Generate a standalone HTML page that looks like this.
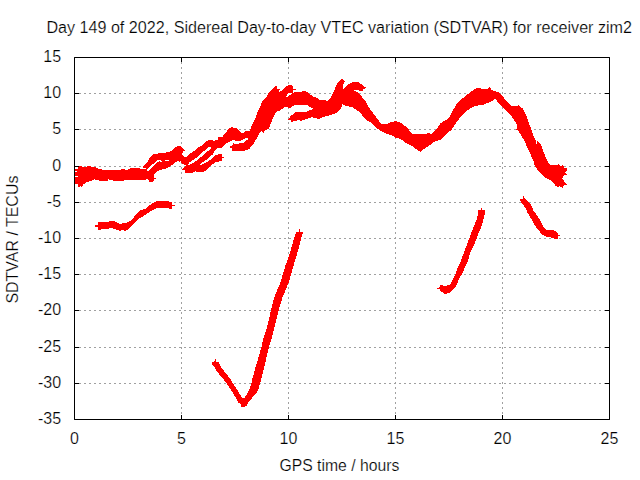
<!DOCTYPE html>
<html><head><meta charset="utf-8"><style>
html,body{margin:0;padding:0;background:#fff;}
svg{display:block;}
text{font-family:"Liberation Sans",sans-serif;font-size:16px;fill:#000;stroke:#fff;stroke-width:0.22px;}
.tl text{font-size:16px;}
</style></head><body>
<svg width="640" height="480" viewBox="0 0 640 480">
<rect width="640" height="480" fill="#fff"/>
<g stroke="#a0a0a0" stroke-width="1" stroke-dasharray="2 3" fill="none">
<line x1="181.5" y1="57" x2="181.5" y2="420"/><line x1="288.5" y1="57" x2="288.5" y2="420"/><line x1="395.5" y1="57" x2="395.5" y2="420"/><line x1="502.5" y1="57" x2="502.5" y2="420"/><line x1="74" y1="383.5" x2="610" y2="383.5"/><line x1="74" y1="347.5" x2="610" y2="347.5"/><line x1="74" y1="310.5" x2="610" y2="310.5"/><line x1="74" y1="274.5" x2="610" y2="274.5"/><line x1="74" y1="238.5" x2="610" y2="238.5"/><line x1="74" y1="202.5" x2="610" y2="202.5"/><line x1="74" y1="166.5" x2="610" y2="166.5"/><line x1="74" y1="129.5" x2="610" y2="129.5"/><line x1="74" y1="93.5" x2="610" y2="93.5"/>
</g>
<g fill="#ff0000" stroke="none" shape-rendering="crispEdges">
<polygon points="74.50,169.30 78.20,169.30 78.20,166.20 81.70,166.20 82.40,166.90 87.00,166.90 87.40,166.00 90.60,166.00 91.30,166.90 93.40,167.20 94.50,166.90 95.90,167.20 98.00,168.60 101.90,169.00 102.60,170.00 111.50,170.00 120.00,170.00 123.40,168.50 126.50,170.00 131.50,167.50 136.50,167.75 140.00,168.20 141.00,168.90 145.50,168.90 145.50,167.80 142.80,167.70 142.80,166.50 145.80,164.20 148.30,160.40 150.40,157.10 152.90,154.60 153.75,154.00 155.00,154.20 159.20,153.20 163.30,153.20 168.30,152.10 170.80,151.25 173.30,148.75 176.70,146.70 179.20,145.80 180.80,146.25 182.90,148.75 184.60,150.00 185.80,150.40 182.90,151.25 182.10,154.20 182.90,156.25 185.00,157.10 186.70,156.70 190.00,153.75 193.30,151.70 198.30,147.10 200.80,146.25 205.80,142.10 208.30,140.00 212.50,140.20 215.00,141.70 215.40,140.40 217.90,140.00 218.30,137.10 222.50,137.10 223.30,135.00 225.80,132.50 228.30,129.20 231.70,127.10 233.30,127.90 236.70,127.90 240.00,131.25 241.70,132.90 243.75,132.50 245.00,131.25 250.00,130.80 250.80,127.50 253.30,122.50 255.80,117.50 257.50,112.50 262.50,101.25 266.25,97.50 268.75,92.50 272.80,88.40 275.20,86.10 276.80,86.10 277.00,88.90 279.80,89.10 279.80,90.30 278.90,90.50 279.10,91.70 281.25,91.00 284.10,88.20 285.20,87.00 287.30,86.10 288.50,84.90 290.60,84.90 293.00,86.10 293.40,88.90 295.80,89.10 295.80,90.10 293.40,90.10 293.40,92.70 294.10,92.00 300.00,91.70 305.00,91.25 308.75,93.10 312.50,96.25 316.25,97.50 320.00,100.00 327.50,100.60 331.25,96.90 333.75,91.90 336.25,85.00 338.75,81.25 341.90,78.50 343.10,79.40 345.00,81.25 343.10,85.00 342.50,89.40 346.25,86.25 350.00,83.10 353.75,81.90 358.75,82.50 362.50,85.00 366.25,88.10 363.10,89.40 362.50,91.25 360.00,90.60 356.25,90.00 353.75,89.40 355.00,91.25 358.75,93.10 362.50,97.50 366.25,102.50 368.75,107.50 372.50,112.50 376.25,117.50 381.25,123.75 386.25,124.40 390.00,122.50 395.00,121.25 399.40,121.90 403.75,125.00 407.50,128.10 411.90,133.75 416.25,134.40 425.00,134.40 427.50,133.10 431.25,133.75 437.50,127.50 440.00,123.75 443.75,121.25 448.75,118.10 452.50,111.25 456.25,104.40 461.25,99.40 467.50,94.40 472.50,90.60 477.50,87.50 480.00,87.50 481.25,89.00 487.50,89.00 489.40,87.25 491.90,90.00 495.00,91.25 498.75,91.90 502.50,96.25 507.50,101.90 511.25,106.25 517.50,106.25 518.75,104.40 520.00,106.90 523.10,108.75 526.25,115.00 528.10,121.25 530.60,127.50 533.10,135.00 535.60,140.00 535.70,144.00 536.80,144.00 537.20,141.00 538.30,141.50 541.25,145.00 542.90,150.40 545.50,156.70 548.10,162.40 551.25,165.50 556.50,165.00 559.00,164.20 560.10,166.60 562.20,165.20 563.75,166.00 564.30,168.10 566.90,168.30 566.90,171.25 564.80,172.30 566.90,174.40 564.30,175.40 561.70,178.50 563.75,180.60 566.90,184.80 563.75,185.30 563.20,187.90 561.10,187.40 559.60,185.80 558.50,186.90 555.90,186.35 554.40,183.75 551.25,180.60 548.10,179.10 545.00,177.50 540.80,173.30 537.70,170.20 534.60,165.00 533.50,160.80 531.50,156.70 529.40,151.50 526.25,145.20 524.20,140.00 522.50,137.50 518.75,131.25 516.25,129.40 517.50,126.90 516.25,123.10 512.50,117.50 507.50,111.90 502.50,106.90 497.50,101.90 495.60,98.75 492.50,100.60 488.75,102.50 482.50,105.00 477.50,105.60 472.50,106.90 466.25,111.25 460.00,117.50 456.25,122.50 451.25,130.00 445.00,135.30 440.00,140.00 435.00,141.25 430.00,145.00 425.00,148.10 420.60,151.90 417.50,150.00 412.50,146.25 406.25,143.10 400.00,138.75 395.00,137.50 391.25,135.00 386.25,133.75 380.00,130.60 377.50,128.75 372.50,123.75 367.50,120.60 363.75,117.50 360.00,112.50 356.25,110.00 352.50,107.25 347.50,106.25 342.50,104.40 340.60,108.75 337.50,111.90 335.60,113.30 330.90,115.10 326.20,116.10 322.50,117.50 318.70,118.90 314.00,118.00 312.20,117.00 307.50,118.90 303.70,119.80 300.90,120.80 299.00,120.30 294.40,120.80 291.60,122.20 291.10,119.80 288.30,119.80 288.30,118.90 289.70,117.50 291.60,115.10 294.40,113.30 296.25,111.90 299.00,112.30 306.60,111.90 309.40,110.50 313.10,109.00 313.10,108.60 310.30,107.20 307.50,105.30 297.20,104.80 292.50,105.80 290.60,107.70 285.00,107.20 283.75,107.50 280.00,110.60 276.25,111.90 274.40,115.00 271.25,122.50 268.75,128.75 266.25,130.00 265.00,130.00 263.30,133.30 262.10,131.25 260.80,131.70 259.20,133.30 257.50,136.70 255.80,140.00 253.30,144.20 250.80,146.70 249.20,149.20 245.00,150.00 244.60,151.00 239.20,151.00 234.20,150.80 232.50,150.80 232.10,147.90 229.60,147.50 229.60,146.50 232.10,145.40 233.30,143.30 235.80,143.75 240.80,143.30 244.20,142.50 246.70,140.00 249.20,138.75 246.25,137.90 244.20,138.75 242.50,140.40 237.50,140.80 234.20,140.40 232.50,140.00 230.00,141.25 227.50,142.50 225.00,144.40 221.70,147.50 217.50,148.30 215.00,150.80 212.90,153.30 214.20,155.40 220.00,154.20 221.70,154.20 222.10,156.70 224.60,157.10 222.10,158.30 221.70,161.25 216.70,161.70 214.20,163.30 212.50,164.50 207.50,168.75 205.00,171.25 200.00,172.10 196.70,172.50 195.80,170.80 192.50,172.70 185.10,172.75 184.80,170.00 182.10,169.50 182.10,168.70 184.30,167.90 184.80,166.25 186.70,165.70 184.80,164.90 182.10,163.50 180.50,161.10 179.40,161.60 177.80,161.10 176.20,161.90 174.00,163.80 171.70,165.00 169.20,167.10 165.00,168.75 160.80,170.00 157.50,171.25 154.20,173.75 153.75,177.90 156.80,178.75 153.75,179.20 153.30,181.70 149.20,181.70 147.90,179.20 145.00,179.60 140.00,180.40 132.75,180.25 126.50,179.75 121.50,181.00 116.50,181.25 109.00,179.40 108.30,178.90 107.60,181.00 103.70,181.00 103.30,180.70 99.80,180.70 98.40,180.00 95.50,180.00 94.80,179.30 93.40,180.00 90.90,180.70 88.80,181.80 86.30,182.10 84.90,183.90 83.10,184.20 82.40,186.70 81.30,187.10 79.90,186.00 79.20,187.10 78.20,187.10 78.20,183.90 74.50,183.90"/>
<polygon points="94.90,225.00 98.40,225.00 98.40,222.40 108.30,222.00 109.70,221.00 114.60,221.40 119.50,223.80 126.60,222.80 132.20,219.60 136.40,214.00 139.90,210.50 144.90,209.10 151.20,204.10 156.10,201.30 167.40,201.30 171.60,202.00 171.90,204.80 175.10,205.10 175.10,206.00 171.90,206.00 171.60,208.80 167.40,208.40 157.50,208.00 151.90,210.50 146.30,214.00 142.00,216.90 139.00,218.75 136.00,221.75 133.00,224.75 130.75,227.00 128.50,228.50 127.00,230.00 125.90,230.00 125.50,230.75 124.00,230.75 123.60,230.00 121.40,230.00 121.00,230.75 119.10,230.75 118.75,230.00 116.50,230.00 116.10,229.25 113.50,228.90 112.75,227.75 109.40,227.75 109.00,228.50 101.10,228.50 100.75,229.60 98.40,229.60 98.40,226.60 94.90,226.60"/>
<polygon points="212.00,362.50 212.00,364.20 214.90,367.60 216.60,371.00 218.90,373.90 221.80,377.40 224.60,380.80 227.50,384.80 229.80,388.30 232.10,391.70 234.40,395.70 237.20,399.70 238.40,403.20 241.30,403.70 241.30,406.60 244.70,406.60 245.30,405.50 246.60,405.60 248.75,402.00 251.70,398.30 255.30,394.70 258.20,389.60 260.40,382.30 262.60,373.50 264.80,364.80 267.00,354.60 269.20,345.80 271.25,340.00 275.00,325.00 278.75,310.00 282.50,297.50 288.75,282.50 293.75,265.00 295.40,259.50 297.90,251.20 300.00,242.80 302.50,233.70 302.90,232.40 300.30,231.50 299.60,229.10 299.00,231.50 296.25,232.00 295.80,233.70 293.75,238.70 292.50,244.50 290.80,249.50 289.20,255.30 287.10,261.20 285.60,265.00 280.40,282.50 274.20,297.50 271.00,310.00 267.60,325.00 263.00,340.00 261.00,348.75 258.50,357.50 256.20,365.00 254.20,372.20 252.50,378.00 251.20,384.00 249.50,389.00 247.50,393.50 245.10,397.00 243.00,398.80 240.70,395.70 238.40,391.70 236.10,388.30 233.80,384.80 231.50,380.80 229.20,377.40 226.30,373.90 224.00,371.00 221.20,367.60 220.00,364.70 218.90,362.50 216.00,361.90 215.50,359.00 214.50,361.50"/>
<polygon points="481.40,207.10 482.00,210.20 485.00,210.20 485.00,213.60 483.60,218.75 482.50,222.80 481.40,226.80 479.60,230.80 477.90,234.80 476.20,239.40 474.50,244.00 472.20,248.50 469.90,253.10 468.75,257.70 468.60,258.50 466.80,263.75 464.60,268.10 462.90,272.50 460.20,276.90 458.10,281.25 456.30,285.60 453.70,288.70 451.50,290.90 450.20,292.60 447.10,293.50 444.50,293.90 442.75,292.60 440.10,291.30 440.10,289.60 437.10,288.70 437.10,287.80 439.70,287.40 440.10,285.20 442.75,285.20 444.90,286.50 447.10,285.20 449.75,284.75 451.50,282.10 453.25,278.60 455.00,275.10 457.20,269.00 459.40,264.60 461.10,260.25 462.40,256.60 464.20,252.00 465.90,247.40 467.60,242.80 469.30,238.20 471.00,233.10 473.30,227.90 475.00,223.30 476.80,218.75 477.90,214.20 477.90,210.20 481.00,210.20"/>
<polygon points="520.10,199.40 522.60,198.60 523.50,196.30 524.70,198.60 527.20,200.30 530.60,204.30 533.50,210.60 537.50,216.30 540.40,220.90 543.20,226.70 547.20,230.10 553.50,230.10 557.00,232.40 558.10,234.70 560.40,235.20 558.10,236.00 557.50,238.70 554.70,238.70 550.10,237.20 546.70,236.70 543.80,235.20 543.20,235.80 540.40,232.40 537.50,228.90 534.60,224.90 531.80,219.80 528.30,214.10 524.90,207.20 521.50,202.60 520.30,200.30"/>
</g>
<g fill="none" stroke="#fff" stroke-width="1" shape-rendering="crispEdges">
<polyline points="165.00,160.40 168.75,160.40"/>
</g>
<g fill="#fff" stroke="none" shape-rendering="crispEdges">
<polygon points="147.00,169.70 150.00,167.00 152.40,164.50 154.80,162.50 156.50,160.60 160.00,159.90 162.00,161.00 162.00,162.30 160.00,161.30 157.00,162.30 155.00,164.30 152.80,166.30 150.20,168.90 148.00,171.00 147.00,171.00"/><polygon points="189.50,162.50 193.00,160.00 198.00,156.50 200.60,154.00 203.70,151.30 206.10,149.30 208.50,147.30 211.30,146.30 211.50,147.50 208.50,150.50 205.00,153.50 201.00,157.00 198.00,159.50 193.50,162.50 189.50,164.80 188.00,165.20"/><polygon points="199.50,165.50 203.00,164.20 206.10,162.30 210.00,160.20 213.20,157.00 215.20,155.10 214.00,153.80 211.30,155.40 208.30,158.30 204.50,160.90 201.00,163.20"/><polygon points="286.00,96.50 287.50,94.00 289.00,93.00 290.00,92.40 292.00,93.00 290.50,94.50 288.00,96.00 287.00,97.00"/><polygon points="75.00,171.00 77.00,171.00 77.00,172.00 75.00,172.00"/><polygon points="75.00,176.00 78.00,176.00 78.00,177.00 75.00,177.00"/>
</g>
<path d="M74.5 57.5H609.5V419.5H74.5Z M74.5 419.5V415.0M74.5 57.5V62.0M181.5 419.5V415.0M181.5 57.5V62.0M288.5 419.5V415.0M288.5 57.5V62.0M395.5 419.5V415.0M395.5 57.5V62.0M502.5 419.5V415.0M502.5 57.5V62.0M609.5 419.5V415.0M609.5 57.5V62.0M74.5 419.5H79.0M609.5 419.5H605.0M74.5 383.5H79.0M609.5 383.5H605.0M74.5 347.5H79.0M609.5 347.5H605.0M74.5 310.5H79.0M609.5 310.5H605.0M74.5 274.5H79.0M609.5 274.5H605.0M74.5 238.5H79.0M609.5 238.5H605.0M74.5 202.5H79.0M609.5 202.5H605.0M74.5 166.5H79.0M609.5 166.5H605.0M74.5 129.5H79.0M609.5 129.5H605.0M74.5 93.5H79.0M609.5 93.5H605.0M74.5 57.5H79.0M609.5 57.5H605.0" stroke="#000" stroke-width="1" fill="none"/>
<g class="tl">
<text x="61.1" y="424.1" text-anchor="end">-35</text><text x="61.1" y="388.1" text-anchor="end">-30</text><text x="61.1" y="352.1" text-anchor="end">-25</text><text x="61.1" y="315.1" text-anchor="end">-20</text><text x="61.1" y="279.1" text-anchor="end">-15</text><text x="61.1" y="243.1" text-anchor="end">-10</text><text x="61.1" y="207.1" text-anchor="end">-5</text><text x="61.1" y="171.1" text-anchor="end">0</text><text x="61.1" y="134.1" text-anchor="end">5</text><text x="61.1" y="98.1" text-anchor="end">10</text><text x="61.1" y="62.1" text-anchor="end">15</text><text x="74.5" y="443.7" text-anchor="middle">0</text><text x="181.5" y="443.7" text-anchor="middle">5</text><text x="288.5" y="443.7" text-anchor="middle">10</text><text x="395.5" y="443.7" text-anchor="middle">15</text><text x="502.5" y="443.7" text-anchor="middle">20</text><text x="609.5" y="443.7" text-anchor="middle">25</text>
</g>
<text x="46.4" y="33" textLength="585.6" lengthAdjust="spacingAndGlyphs">Day 149 of 2022, Sidereal Day-to-day VTEC variation (SDTVAR) for receiver zim2</text>
<text x="279.5" y="470.7" textLength="119.8" lengthAdjust="spacingAndGlyphs">GPS time / hours</text>
<text transform="translate(18,303.6) rotate(-90)" x="0" y="0" textLength="128" lengthAdjust="spacingAndGlyphs">SDTVAR / TECUs</text>
</svg>
</body></html>
